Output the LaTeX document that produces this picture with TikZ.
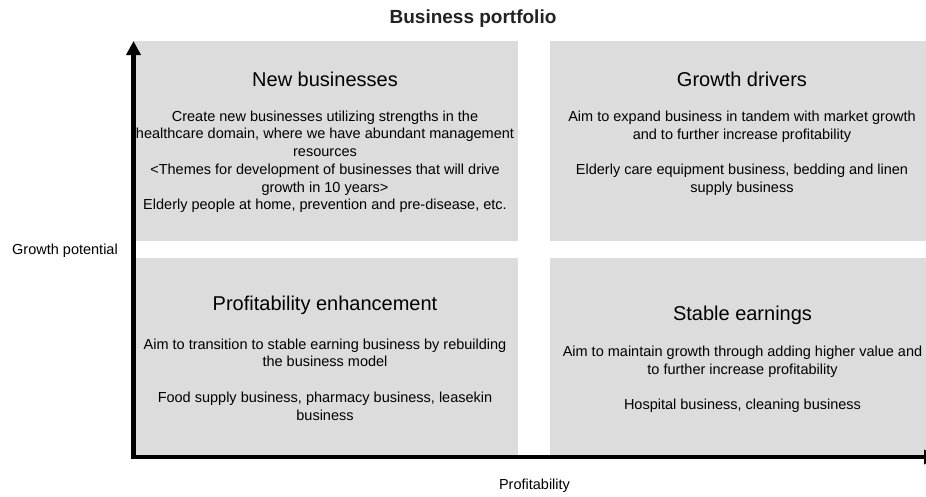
\documentclass[tikz,border=0pt]{standalone}
\usepackage{fontspec}
\setmainfont{Liberation Sans}
\usetikzlibrary{arrows.meta}

\definecolor{boxgray}{HTML}{DCDCDC}
\definecolor{titlegray}{HTML}{222222}

\begin{document}
\begin{tikzpicture}[x = 1pt, y = -1pt,
	head/.style = {font = \fontsize{20}{24}\selectfont},
	body/.style = {align = center, font = \fontsize{14.5}{17.7}\selectfont},
	axislabel/.style = {font = \fontsize{14.5}{17.7}\selectfont},
	axis/.style = {line width = 4.5pt, -{Triangle[length = 14pt, width = 14pt]}}]
	
		\useasboundingbox (0, 0) rectangle (926, 496);
		
		% the four quadrants
		\fill[boxgray] (133, 41) rectangle (518, 240.7);
		\fill[boxgray] (550, 41) rectangle (935, 240.7);
		\fill[boxgray] (133, 257.7) rectangle (518, 455);
		\fill[boxgray] (550, 257.7) rectangle (935, 455);
		
		\node[font = \bfseries\fontsize{19}{23}\selectfont, text = titlegray] (title) at (473, 19) {Business portfolio};
		
		% upper left
		\node[head] (newhead) at (325, 79) {New businesses};
		\node[body] (newbody) at (325, 161.7) {Create new businesses utilizing strengths in the\\
			healthcare domain, where we have abundant management\\
			resources\\
			<Themes for development of businesses that will drive\\
			growth in 10 years>\\
			Elderly people at home, prevention and pre-disease, etc.};
		
		% upper right
		\node[head] (growhead) at (742, 79) {Growth drivers};
		\node[body] (growbody) at (742, 153.5) {Aim to expand business in tandem with market growth\\
			and to further increase profitability\\[17.7pt]
			Elderly care equipment business, bedding and linen\\
			supply business};
		
		% lower left
		\node[head] (profhead) at (325, 305) {Profitability enhancement};
		\node[body] (profbody) at (325, 379.5) {Aim to transition to stable earning business by rebuilding\\
			the business model\\[17.7pt]
			Food supply business, pharmacy business, leasekin\\
			business};
		
		% lower right
		\node[head] (stablehead) at (742.5, 315) {Stable earnings};
		\node[body] (stablebody) at (742.5, 379.5) {Aim to maintain growth through adding higher value and\\
			to further increase profitability\\[17.7pt]
			Hospital business, cleaning business};
		
		% axes
		\coordinate (origin) at (133.5, 457);
		\coordinate (ytop) at (133.5, 41);
		\coordinate (xend) at (938, 457);
		\draw[axis] (origin) ++(0, 2.25) -- (ytop);
		\draw[axis] (origin) ++(-2.25, 0) -- (xend);
		
		\node[axislabel] (ylabel) at (65, 251) {Growth potential};
		\node[axislabel] (xlabel) at (534.5, 486) {Profitability};
		
	\end{tikzpicture}
\end{document}
